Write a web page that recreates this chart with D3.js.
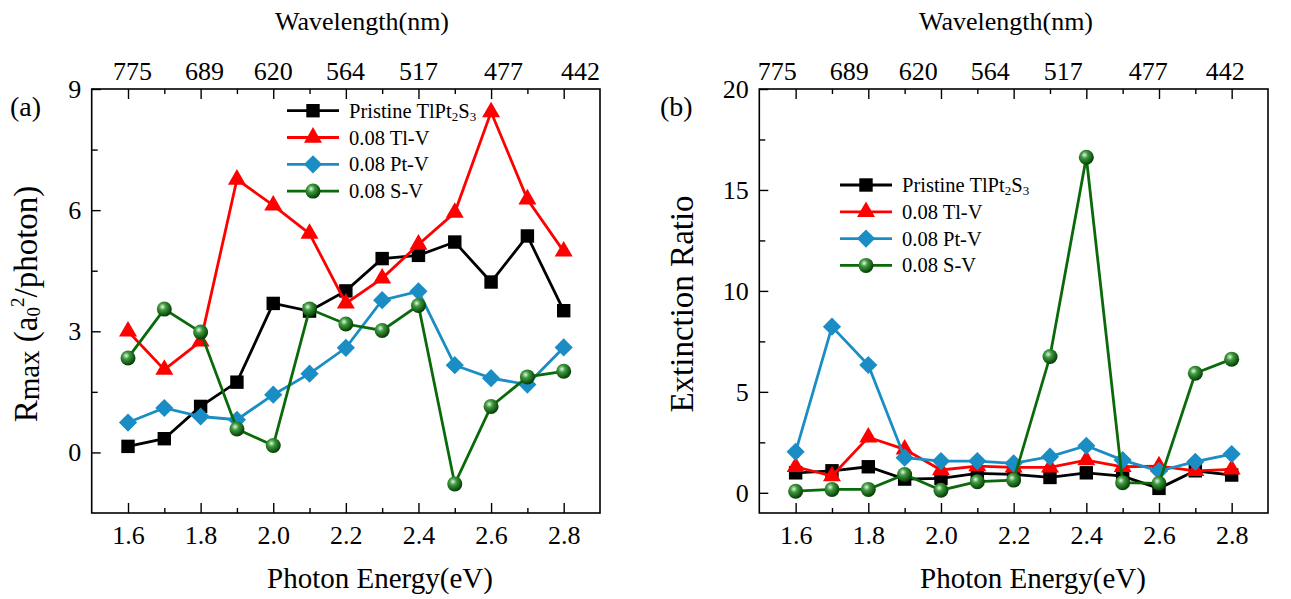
<!DOCTYPE html>
<html lang="en">
<head>
<meta charset="utf-8">
<title>TlPt2S3 Rmax / Extinction ratio</title>
<script src="https://cdn.jsdelivr.net/npm/d3@7/dist/d3.min.js"></script>
<style>
  body { margin: 0; background: #fff; }
  svg text { font-family: "Liberation Serif", "Times New Roman", serif !important; fill: #000; }
</style>
</head>
<body>
<div id="chart"></div>
<script>
// photon energy (eV), shared by both panels
var energy = [1.6, 1.7, 1.8, 1.9, 2.0, 2.1, 2.2, 2.3, 2.4, 2.5, 2.6, 2.7, 2.8];
var wlLabels = ["775", "689", "620", "564", "517", "477", "442"];
// where the wavelength labels sit, in eV units of each panel
var wlAtA = [1.611, 1.809, 1.999, 2.198, 2.399, 2.633, 2.845];
var wlAtB = [1.548, 1.746, 1.936, 2.134, 2.335, 2.569, 2.781];

// (a) Rmax (a0^2/photon)
var rPristine = [0.15, 0.34, 1.14, 1.74, 3.69, 3.50, 4.00, 4.80, 4.88, 5.21, 4.22, 5.36, 3.51];
var rTlV      = [3.00, 2.05, 2.75, 6.76, 6.12, 5.42, 3.69, 4.31, 5.15, 5.94, 8.43, 6.27, 4.98];
var rPtV      = [0.74, 1.10, 0.89, 0.81, 1.43, 1.95, 2.59, 3.77, 3.99, 2.16, 1.84, 1.68, 2.60];
var rSV       = [2.34, 3.55, 2.98, 0.58, 0.17, 3.55, 3.18, 3.02, 3.64, -0.78, 1.14, 1.87, 2.01];

// (b) extinction ratio
var ePristine = [0.99, 1.09, 1.29, 0.68, 0.71, 0.96, 0.91, 0.76, 0.99, 0.83, 0.22, 1.09, 0.88];
var eTlV      = [1.29, 0.83, 2.75, 2.15, 1.13, 1.32, 1.26, 1.26, 1.62, 1.29, 1.32, 1.09, 1.16];
var ePtV      = [2.03, 8.23, 6.33, 1.74, 1.57, 1.57, 1.46, 1.79, 2.33, 1.62, 1.08, 1.54, 1.92];
var eSV       = [0.08, 0.17, 0.17, 0.91, 0.13, 0.55, 0.63, 6.75, 16.62, 0.50, 0.47, 5.92, 6.62];

var seriesNames = ["Pristine TlPt2S3", "0.08 Tl-V", "0.08 Pt-V", "0.08 S-V"];
var seriesColors = ["#000000", "#ff0000", "#1a8ec4", "#0a6a0a"];
var seriesShapes = ["square", "triangle", "diamond", "ball"];

var W = 1291, H = 599;
var svg = d3.select("#chart").append("svg")
    .attr("width", W)
    .attr("height", H)
    .style("font-family", "'Liberation Serif', serif");

// shaded ball for the S-V markers
var grad = svg.append("defs").append("radialGradient")
    .attr("id", "ball")
    .attr("cx", "0.38").attr("cy", "0.35").attr("r", "0.65");
grad.append("stop").attr("offset", "0%").attr("stop-color", "#e6f5e6");
grad.append("stop").attr("offset", "35%").attr("stop-color", "#3f9a3f");
grad.append("stop").attr("offset", "100%").attr("stop-color", "#033d03");

function addMarker(g, shape, color, x, y) {
    if (shape == "square") {
        g.append("path").attr("d", d3.symbol(d3.symbolSquare, 180)())
            .attr("transform", "translate(" + x + "," + y + ")")
            .attr("fill", color);
    } else if (shape == "triangle") {
        g.append("path").attr("d", d3.symbol(d3.symbolTriangle, 140)())
            .attr("transform", "translate(" + x + "," + y + ")")
            .attr("fill", color);
    } else if (shape == "diamond") {
        g.append("path").attr("d", d3.symbol(d3.symbolSquare, 165)())
            .attr("transform", "translate(" + x + "," + y + ") rotate(45)")
            .attr("fill", color);
    } else {
        g.append("circle").attr("cx", x).attr("cy", y).attr("r", 7.5)
            .attr("fill", "url(#ball)");
    }
}

// label with chemical subscripts
function legendText(sel, name) {
    if (name.indexOf("TlPt2S3") >= 0) {
        sel.append("tspan").text("Pristine TlPt");
        sel.append("tspan").text("2").attr("font-size", 13).attr("dy", 3);
        sel.append("tspan").text("S").attr("dy", -3);
        sel.append("tspan").text("3").attr("font-size", 13).attr("dy", 3);
    } else {
        sel.text(name);
    }
}

function drawPanel(p) {
    var x = d3.scaleLinear().domain([1.5, 2.9]).range([p.left, p.right]);
    var y = d3.scaleLinear().domain(p.yDomain).range([513, 89]);
    var g = svg.append("g");

    // frame
    g.append("rect")
        .attr("x", p.left).attr("y", 89)
        .attr("width", p.right - p.left).attr("height", 424)
        .attr("fill", "none").attr("stroke", "#000").attr("stroke-width", 1.6);

    var minorX = energy.filter(function(d, i) { return i % 2 == 1; });
    var majorX = energy.filter(function(d, i) { return i % 2 == 0; });

    // bottom axis
    var bottom = g.append("g").attr("transform", "translate(0,513)");
    bottom.call(d3.axisBottom(x).tickValues(majorX).tickSize(-10).tickPadding(12.5)
        .tickFormat(d3.format(".1f")));
    bottom.append("g").call(d3.axisBottom(x).tickValues(minorX).tickSize(-5).tickFormat(""));

    // top axis: ticks follow photon energy, labels give wavelength
    var top = g.append("g").attr("transform", "translate(0,89)");
    top.call(d3.axisTop(x).tickValues(majorX).tickSize(-10).tickFormat(""));
    top.append("g").call(d3.axisTop(x).tickValues(minorX).tickSize(-5).tickFormat(""));
    top.append("g").call(d3.axisTop(x).tickValues(p.wlAt).tickSize(0).tickPadding(9)
        .tickFormat(function(d, i) { return wlLabels[i]; }));

    // left axis
    var left = g.append("g").attr("transform", "translate(" + p.left + ",0)");
    left.call(d3.axisLeft(y).tickValues(p.yMajor).tickSize(-9).tickPadding(10.5));
    left.append("g").call(d3.axisLeft(y).tickValues(p.yMinor).tickSize(-6).tickFormat(""));

    g.selectAll(".domain").remove();
    g.selectAll("g").attr("font-family", null);
    g.selectAll(".tick line").attr("stroke", "#000").attr("stroke-width", 1.4);
    g.selectAll(".tick text").attr("font-size", 26);

    // series
    var line = d3.line()
        .x(function(d) { return x(d[0]); })
        .y(function(d) { return y(d[1]); });
    p.series.forEach(function(vals, k) {
        var pts = energy.map(function(e, i) { return [e, vals[i]]; });
        g.append("path").attr("d", line(pts))
            .attr("fill", "none")
            .attr("stroke", seriesColors[k])
            .attr("stroke-width", 2.8);
        pts.forEach(function(d) {
            addMarker(g, seriesShapes[k], seriesColors[k], x(d[0]), y(d[1]));
        });
    });

    // legend
    seriesNames.forEach(function(name, k) {
        var ly = p.legendY + k * 26.8;
        g.append("line")
            .attr("x1", p.legendX).attr("x2", p.legendX + 52)
            .attr("y1", ly).attr("y2", ly)
            .attr("stroke", seriesColors[k]).attr("stroke-width", 2.8);
        addMarker(g, seriesShapes[k], seriesColors[k], p.legendX + 26, ly);
        var t = g.append("text")
            .attr("x", p.legendX + 62).attr("y", ly + 7)
            .attr("font-size", 20.5);
        legendText(t, name);
    });

    // titles
    g.append("text").attr("x", p.bottomTitleX).attr("y", 588)
        .attr("text-anchor", "middle").attr("font-size", 29)
        .text("Photon Energy(eV)");
    g.append("text").attr("x", p.topTitleX).attr("y", 30)
        .attr("text-anchor", "middle").attr("font-size", 26)
        .text("Wavelength(nm)");
    var yt = g.append("text")
        .attr("transform", "translate(" + p.yTitleX + ",304) rotate(-90)")
        .attr("text-anchor", "middle").attr("font-size", 33);
    p.yTitle(yt);
    g.append("text").attr("x", p.tagX).attr("y", 116)
        .attr("font-size", 28).text(p.tag);
}

drawPanel({
    left: 91.7, right: 600,
    yDomain: [-1.5, 9], yMajor: [0, 3, 6, 9], yMinor: [1.5, 4.5, 7.5],
    wlAt: wlAtA,
    series: [rPristine, rTlV, rPtV, rSV],
    legendX: 287, legendY: 110.7,
    bottomTitleX: 380, topTitleX: 362,
    yTitleX: 37, tag: "(a)", tagX: 10,
    yTitle: function(t) {
        t.append("tspan").text("R");
        t.append("tspan").text("max").attr("font-size", 29).attr("dy", 2);
        t.append("tspan").text(" (a").attr("dy", -2);
        t.append("tspan").text("0").attr("font-size", 19).attr("dy", 3);
        t.append("tspan").text("2").attr("font-size", 19).attr("dy", -16);
        t.append("tspan").text("/photon)").attr("dy", 13);
    }
});

drawPanel({
    left: 759.3, right: 1268,
    yDomain: [-1, 20], yMajor: [0, 5, 10, 15, 20], yMinor: [2.5, 7.5, 12.5, 17.5],
    wlAt: wlAtB,
    series: [ePristine, eTlV, ePtV, eSV],
    legendX: 840, legendY: 185,
    bottomTitleX: 1033, topTitleX: 1006,
    yTitleX: 693, tag: "(b)", tagX: 660,
    yTitle: function(t) { t.text("Extinction Ratio"); }
});
</script>
</body>
</html>
